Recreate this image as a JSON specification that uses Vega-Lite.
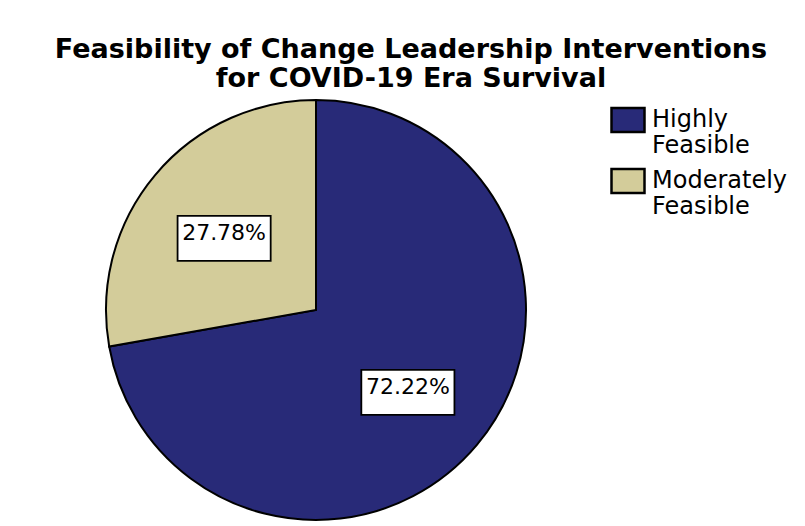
{
  "$schema": "https://vega.github.io/schema/vega-lite/v6.json",
  "autosize": "none",
  "width": 528,
  "height": 420,
  "padding": {"left": 52, "top": 100, "right": 225, "bottom": 6},
  "background": "white",
  "title": {
    "text": ["Feasibility of Change Leadership Interventions", "for COVID-19 Era Survival"],
    "font": "DejaVu Sans",
    "fontSize": 27,
    "fontWeight": "bold",
    "color": "black",
    "anchor": "middle",
    "dx": 95,
    "offset": 3,
    "lineHeight": 29
  },
  "data": {
    "values": [
      {"category": "Highly Feasible", "share": 0.7222},
      {"category": "Moderately Feasible", "share": 0.2778}
    ]
  },
  "config": {"view": {"stroke": null}},
  "layer": [
    {
      "mark": {"type": "arc", "stroke": "black", "strokeWidth": 2},
      "encoding": {
        "theta": {"field": "share", "type": "quantitative", "stack": true},
        "order": {"field": "category"},
        "color": {
          "field": "category",
          "type": "nominal",
          "scale": {"domain": ["Highly Feasible", "Moderately Feasible"], "range": ["#282a78", "#d3cc9a"]},
          "legend": {
            "title": null,
            "orient": "right",
            "offset": 28,
            "symbolType": "M-1,-0.72H1V0.72H-1Z",
            "symbolSize": 1089,
            "symbolStrokeColor": "black",
            "symbolStrokeWidth": 2.5,
            "labelFont": "DejaVu Sans",
            "labelFontSize": 24,
            "labelColor": "black",
            "labelLimit": 300,
            "labelOffset": 6,
            "labelExpr": "split(datum.label, ' ')",
            "rowPadding": 5,
            "padding": 2
          }
        }
      }
    },
    {
      "mark": {"type": "text", "radius": 120, "text": "▬", "font": "DejaVu Sans", "fontSize": 122, "fill": "white", "stroke": "black", "strokeWidth": 1.8, "baseline": "middle", "align": "center"},
      "encoding": {
        "theta": {"field": "share", "type": "quantitative", "stack": true},
        "order": {"field": "category"}
      }
    },
    {
      "mark": {"type": "text", "radius": 120, "font": "DejaVu Sans", "fontSize": 22, "color": "black", "baseline": "middle", "align": "center"},
      "encoding": {
        "theta": {"field": "share", "type": "quantitative", "stack": true},
        "order": {"field": "category"},
        "text": {"field": "share", "type": "quantitative", "format": ".2%"}
      }
    }
  ]
}
